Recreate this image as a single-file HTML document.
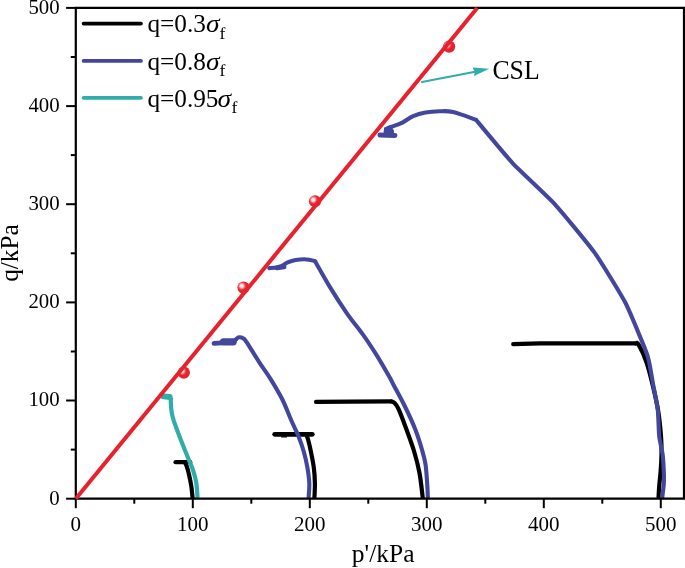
<!DOCTYPE html><html><head><meta charset="utf-8"><style>html,body{margin:0;padding:0;background:#fff}svg{display:block}text{font-family:"Liberation Serif",serif;fill:#000}svg{will-change:transform}</style></head><body>
<svg width="685" height="568" viewBox="0 0 685 568">
<defs><radialGradient id="ball" cx="0.36" cy="0.37" r="0.62" fx="0.36" fy="0.37"><stop offset="0" stop-color="#ffffff"/><stop offset="0.22" stop-color="#fbd5d7"/><stop offset="0.45" stop-color="#ee4a53"/><stop offset="0.6" stop-color="#e8222d"/><stop offset="1" stop-color="#e8222d"/></radialGradient></defs>
<rect width="685" height="568" fill="#fff"/>
<path d="M175.6,462.2 L190.2,462.2" fill="none" stroke="#000" stroke-width="4.3" stroke-linejoin="round" stroke-linecap="round"/>
<path d="M184.8,462.4 C185.1,463.0 185.9,464.0 186.6,466.0 C187.3,468.0 188.2,471.0 189.0,474.5 C189.8,478.0 190.8,482.9 191.4,486.8 C192.0,490.8 192.4,496.3 192.6,498.2" fill="none" stroke="#000" stroke-width="4.2" stroke-linejoin="round" stroke-linecap="butt"/>
<path d="M274.7,434.3 L312.3,434.3" fill="none" stroke="#000" stroke-width="4.8" stroke-linejoin="round" stroke-linecap="round"/>
<path d="M306.3,434.5 C306.6,435.4 307.4,437.1 308.2,440.0 C309.0,442.9 310.0,447.1 310.9,451.7 C311.8,456.3 313.1,462.2 313.8,467.5 C314.5,472.8 314.8,478.3 314.9,483.4 C315.0,488.5 314.5,495.7 314.4,498.2" fill="none" stroke="#000" stroke-width="4.2" stroke-linejoin="round" stroke-linecap="butt"/>
<path d="M281.8,436.9 L286.4,436.9" fill="none" stroke="#000" stroke-width="1.4" stroke-linejoin="round" stroke-linecap="round"/>
<path d="M316.0,401.9 L350.0,401.6 L391.0,401.3" fill="none" stroke="#000" stroke-width="4.2" stroke-linejoin="round" stroke-linecap="round"/>
<path d="M390.5,401.3 C391.1,401.5 392.9,401.4 394.3,402.7 C395.7,404.0 396.6,404.8 398.6,409.2 C400.6,413.6 403.7,422.0 406.3,429.0 C408.9,436.0 411.8,443.7 414.0,451.0 C416.2,458.3 418.0,465.1 419.5,473.0 C421.0,480.9 422.2,494.0 422.8,498.2" fill="none" stroke="#000" stroke-width="4.2" stroke-linejoin="round" stroke-linecap="butt"/>
<path d="M513.2,344.1 L540.0,343.4 L636.0,343.3" fill="none" stroke="#000" stroke-width="4.2" stroke-linejoin="round" stroke-linecap="round"/>
<path d="M635.5,343.3 C636.0,343.5 636.8,341.5 638.6,344.6 C640.4,347.7 643.9,354.9 646.3,361.7 C648.7,368.5 650.9,377.6 652.8,385.5 C654.7,393.4 656.5,400.8 657.9,409.2 C659.3,417.6 660.4,428.5 661.0,436.0 C661.6,443.5 661.6,448.1 661.5,454.0 C661.4,459.9 661.0,466.6 660.6,471.6 C660.2,476.6 659.8,479.6 659.4,484.0 C659.0,488.4 658.6,495.8 658.5,498.2" fill="none" stroke="#000" stroke-width="4.2" stroke-linejoin="round" stroke-linecap="butt"/>
<path d="M163.4,396.4 L169.7,397.0" fill="none" stroke="#30adab" stroke-width="5.8" stroke-linejoin="round" stroke-linecap="round"/>
<path d="M171.2,397.5 C171.1,398.2 170.7,399.4 170.8,401.9 C170.9,404.4 171.2,409.3 171.7,412.5 C172.2,415.7 172.8,417.6 173.8,420.9 C174.9,424.2 176.8,429.3 178.0,432.5 C179.2,435.7 179.2,435.7 180.9,440.0 C182.6,444.3 186.2,453.4 188.3,458.5 C190.4,463.6 192.0,466.7 193.3,470.8 C194.6,474.9 195.6,478.6 196.3,483.1 C197.0,487.6 197.4,495.5 197.6,498.0" fill="none" stroke="#30adab" stroke-width="4.2" stroke-linejoin="round" stroke-linecap="butt"/>
<path d="M214.0,343.4 L222.0,342.8" fill="none" stroke="#42479d" stroke-width="4.8" stroke-linejoin="round" stroke-linecap="round"/>
<path d="M223.5,341.9 L233.2,341.8" fill="none" stroke="#42479d" stroke-width="7.2" stroke-linejoin="round" stroke-linecap="round"/>
<path d="M234.0,341.5 C234.4,341.1 235.7,339.6 236.5,338.9 C237.3,338.2 237.8,337.4 238.9,337.3 C240.0,337.2 242.1,337.6 243.3,338.4 C244.6,339.2 243.7,337.9 246.4,341.9 C249.1,345.9 255.3,356.2 259.3,362.3 C263.3,368.4 266.5,372.5 270.3,378.6 C274.1,384.7 278.5,391.9 282.0,398.8 C285.5,405.7 288.4,413.8 291.1,420.0 C293.8,426.2 296.2,430.5 298.3,435.8 C300.4,441.1 302.3,446.4 303.8,451.7 C305.3,457.0 306.5,462.2 307.4,467.5 C308.3,472.8 309.1,478.3 309.3,483.4 C309.5,488.5 308.7,495.6 308.6,498.0" fill="none" stroke="#42479d" stroke-width="4.1" stroke-linejoin="round" stroke-linecap="butt"/>
<path d="M277.0,267.9 L284.2,267.0" fill="none" stroke="#42479d" stroke-width="4.6" stroke-linejoin="round" stroke-linecap="round"/>
<path d="M269.3,268.1 C270.5,268.0 274.1,268.0 276.3,267.6 C278.5,267.2 280.6,266.5 282.5,265.6 C284.4,264.7 285.5,263.3 287.7,262.4 C289.9,261.5 292.8,260.6 295.6,260.1 C298.4,259.6 301.8,259.3 304.3,259.3 C306.8,259.3 308.6,259.8 310.4,260.1 C312.2,260.4 314.4,261.0 315.2,261.2" fill="none" stroke="#42479d" stroke-width="4.1" stroke-linejoin="round" stroke-linecap="round"/>
<path d="M315.0,261.2 C317.5,265.5 324.5,278.2 329.8,286.9 C335.1,295.6 341.4,305.4 346.9,313.3 C352.4,321.2 357.9,327.6 362.8,334.4 C367.7,341.2 371.6,347.2 376.0,354.2 C380.4,361.2 386.3,371.5 389.2,376.6 C392.1,381.7 390.9,379.9 393.6,385.0 C396.3,390.1 401.6,399.7 405.2,407.0 C408.8,414.3 412.4,422.0 415.1,429.0 C417.9,436.0 420.0,442.9 421.7,448.8 C423.4,454.7 424.6,458.3 425.5,464.2 C426.4,470.1 426.8,478.4 427.2,484.0 C427.6,489.6 427.8,495.7 427.9,498.0" fill="none" stroke="#42479d" stroke-width="4.1" stroke-linejoin="round" stroke-linecap="butt"/>
<path d="M380.0,134.9 L394.9,135.5" fill="none" stroke="#42479d" stroke-width="5.0" stroke-linejoin="round" stroke-linecap="round"/>
<path d="M386.3,131.6 L391.3,131.4" fill="none" stroke="#42479d" stroke-width="5.5" stroke-linejoin="round" stroke-linecap="round"/>
<path d="M385.6,128.9 L391.0,128.0" fill="none" stroke="#42479d" stroke-width="3.6" stroke-linejoin="round" stroke-linecap="round"/>
<path d="M388.0,127.9 C388.8,127.7 390.2,127.3 392.7,126.4 C395.2,125.5 399.5,124.0 402.9,122.3 C406.3,120.6 409.4,117.8 413.1,116.2 C416.9,114.6 421.0,113.4 425.4,112.6 C429.8,111.8 435.1,111.4 439.7,111.3 C444.3,111.2 446.9,110.7 453.0,112.1 C459.1,113.5 472.2,118.5 476.0,119.8" fill="none" stroke="#42479d" stroke-width="4.1" stroke-linejoin="round" stroke-linecap="round"/>
<path d="M476.0,119.8 C479.0,123.4 505.8,155.8 512.3,162.8 C518.8,169.8 547.7,196.3 554.5,203.8 C561.3,211.3 588.5,244.2 594.4,252.4 C600.3,260.6 621.0,294.2 625.4,302.8 C629.8,311.4 645.2,348.7 647.5,355.6 C649.8,362.5 652.4,381.0 653.3,385.5 C654.2,390.0 657.3,405.8 657.8,410.0 C658.3,414.2 658.8,432.7 659.2,436.4 C659.6,440.1 662.2,451.1 662.6,454.0 C663.0,456.9 663.7,469.1 663.8,471.6 C663.9,474.1 663.9,481.8 663.8,484.0 C663.7,486.2 662.3,496.8 662.2,498.0" fill="none" stroke="#42479d" stroke-width="4.1" stroke-linejoin="round" stroke-linecap="butt"/>
<circle cx="183.8" cy="372.6" r="6.1" fill="url(#ball)"/>
<circle cx="243.5" cy="287.6" r="6.1" fill="url(#ball)"/>
<circle cx="315.0" cy="201.3" r="6.1" fill="url(#ball)"/>
<circle cx="449.1" cy="46.6" r="6.1" fill="url(#ball)"/>
<line x1="421.9" y1="82.0" x2="476.5" y2="71.6" stroke="#30adab" stroke-width="2.0" stroke-linecap="round"/>
<polygon points="489.2,68.8 472.6,67.6 474.7,71.9 474.0,76.0" fill="#30adab"/>
<text transform="translate(492.4,78.6) scale(0.94,1)" font-size="27.4">CSL</text>
<g stroke="#000" stroke-width="2.2" fill="none" stroke-linecap="butt">
<path d="M75.8,7.1 L75.8,498.7 L684.0,498.7 L684.0,7.1"/>
</g>
<line x1="74.8" y1="7.9" x2="685.0" y2="7.9" stroke="#000" stroke-width="2.1"/>
<g stroke="#000" stroke-width="2">
<line x1="75.8" y1="498.7" x2="75.8" y2="508.2"/>
<line x1="75.8" y1="498.7" x2="66.1" y2="498.7"/>
<line x1="192.8" y1="498.7" x2="192.8" y2="508.2"/>
<line x1="75.8" y1="400.5" x2="66.1" y2="400.5"/>
<line x1="309.8" y1="498.7" x2="309.8" y2="508.2"/>
<line x1="75.8" y1="302.4" x2="66.1" y2="302.4"/>
<line x1="426.8" y1="498.7" x2="426.8" y2="508.2"/>
<line x1="75.8" y1="204.2" x2="66.1" y2="204.2"/>
<line x1="543.8" y1="498.7" x2="543.8" y2="508.2"/>
<line x1="75.8" y1="106.1" x2="66.1" y2="106.1"/>
<line x1="660.8" y1="498.7" x2="660.8" y2="508.2"/>
<line x1="75.8" y1="7.9" x2="66.1" y2="7.9"/>
<line x1="134.3" y1="498.7" x2="134.3" y2="503.7"/>
<line x1="75.8" y1="449.6" x2="70.8" y2="449.6"/>
<line x1="251.3" y1="498.7" x2="251.3" y2="503.7"/>
<line x1="75.8" y1="351.5" x2="70.8" y2="351.5"/>
<line x1="368.3" y1="498.7" x2="368.3" y2="503.7"/>
<line x1="75.8" y1="253.3" x2="70.8" y2="253.3"/>
<line x1="485.3" y1="498.7" x2="485.3" y2="503.7"/>
<line x1="75.8" y1="155.1" x2="70.8" y2="155.1"/>
<line x1="602.3" y1="498.7" x2="602.3" y2="503.7"/>
<line x1="75.8" y1="57.0" x2="70.8" y2="57.0"/>
</g>
<line x1="75.8" y1="498.7" x2="477.2" y2="7.9" stroke="#e8222d" stroke-width="4.0"/>
<text x="75.8" y="531" font-size="21" text-anchor="middle">0</text>
<text x="59.6" y="504.5" font-size="20.8" text-anchor="end">0</text>
<text x="192.8" y="531" font-size="21" text-anchor="middle">100</text>
<text x="59.6" y="406.3" font-size="20.8" text-anchor="end">100</text>
<text x="309.8" y="531" font-size="21" text-anchor="middle">200</text>
<text x="59.6" y="308.2" font-size="20.8" text-anchor="end">200</text>
<text x="426.8" y="531" font-size="21" text-anchor="middle">300</text>
<text x="59.6" y="210.0" font-size="20.8" text-anchor="end">300</text>
<text x="543.8" y="531" font-size="21" text-anchor="middle">400</text>
<text x="59.6" y="111.9" font-size="20.8" text-anchor="end">400</text>
<text x="660.8" y="531" font-size="21" text-anchor="middle">500</text>
<text x="59.6" y="13.7" font-size="20.8" text-anchor="end">500</text>
<text x="383.2" y="562.3" font-size="25.5" text-anchor="middle">p'/kPa</text>
<text transform="translate(18.1,253) rotate(-90)" font-size="25.3" text-anchor="middle">q/kPa</text>
<line x1="83.6" y1="23.55" x2="141.0" y2="23.55" stroke="#000" stroke-width="3.7" stroke-linecap="round"/>
<text transform="translate(147.4,32.4) scale(0.995,1)" font-size="25.4">q=0.3</text>
<text transform="translate(206.0,32.4) scale(1.1,1)" font-size="25" font-style="italic">σ</text>
<text x="219.6" y="38.8" font-size="17.5">f</text>
<line x1="83.6" y1="60.95" x2="141.0" y2="60.95" stroke="#42479d" stroke-width="3.7" stroke-linecap="round"/>
<text transform="translate(147.4,69.8) scale(0.995,1)" font-size="25.4">q=0.8</text>
<text transform="translate(206.0,69.8) scale(1.1,1)" font-size="25" font-style="italic">σ</text>
<text x="219.6" y="76.2" font-size="17.5">f</text>
<line x1="83.6" y1="97.85" x2="141.0" y2="97.85" stroke="#30adab" stroke-width="3.7" stroke-linecap="round"/>
<text transform="translate(147.4,106.6) scale(0.995,1)" font-size="25.4">q=0.95</text>
<text transform="translate(217.5,106.6) scale(1.1,1)" font-size="25" font-style="italic">σ</text>
<text x="231.6" y="113.0" font-size="17.5">f</text>
</svg></body></html>
